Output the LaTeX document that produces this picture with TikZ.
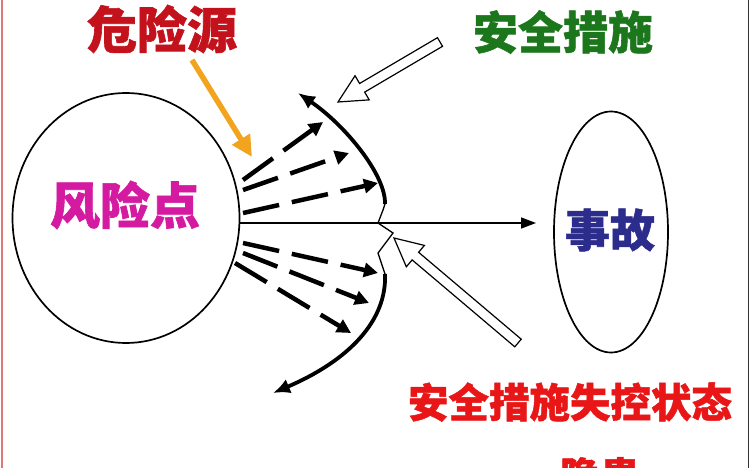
\documentclass[tikz,border=0pt]{standalone}
\usepackage{fontspec}
\newfontfamily\cjk{Noto Sans CJK SC}[BoldFeatures={FakeBold=1.2}]
\usetikzlibrary{calc,arrows.meta,shapes.geometric}
\definecolor{hazred}{RGB}{196,18,28}
\definecolor{pointmag}{RGB}{212,26,160}
\definecolor{safegreen}{RGB}{28,118,28}
\definecolor{accnavy}{RGB}{44,44,140}
\definecolor{failred}{RGB}{232,22,22}
\definecolor{hazorange}{RGB}{242,164,30}
\definecolor{edgered}{RGB}{222,120,120}
\tikzset{
  lbl/.style={font=\cjk\bfseries, inner sep=0pt},
  outline/.style={draw=black, line width=1.7pt},
  ray/.style={line width=4.5pt, dash pattern=on 37pt off 13pt, -{Triangle[length=14pt,width=14pt]}},
  barrier/.style={line width=3.8pt, -{Latex[length=17pt,width=15pt]}},
  jag/.style={line width=1.3pt, line join=miter},
  hollow/.style={draw=black, line width=1.2pt, fill=white, line join=miter},
}
\newcommand\hollowarrow[2]{%
  \draw[hollow] (#1)
    -- ($(#1)!28pt!(#2)!14pt!90:(#2)$)
    -- ($(#1)!28pt!(#2)!5pt!90:(#2)$)
    -- ($(#2)!5pt!-90:(#1)$)
    -- ($(#2)!5pt!90:(#1)$)
    -- ($(#1)!28pt!(#2)!5pt!-90:(#2)$)
    -- ($(#1)!28pt!(#2)!14pt!-90:(#2)$)
    -- cycle;}
\begin{document}
\begin{tikzpicture}[x=1pt,y=-1pt]
\useasboundingbox (0,0) rectangle (750,468);
\clip (0,0) rectangle (750,468);
% frame lines
\coordinate (lt) at (1.5,0); \coordinate (lb) at (1.5,468);
\coordinate (rt) at (748.5,0); \coordinate (rb) at (748.5,468);
\draw[edgered, line width=2pt] (lt) -- (lb);
\draw[black!80, line width=1.6pt] (rt) -- (rb);

% risk point circle
\node[outline, ellipse, minimum width=227pt, minimum height=250pt, inner sep=0pt] (risk) at (126,218) {};
\node[lbl, text=pointmag, font=\cjk\bfseries\fontsize{50}{50}\selectfont] (risklbl) at (125,205) {风险点};

% accident ellipse
\node[outline, ellipse, minimum width=114pt, minimum height=241pt, inner sep=0pt] (acc) at (611,232) {};
\node[lbl, text=accnavy, font=\cjk\bfseries\fontsize{45}{45}\selectfont] (acclbl) at (610,230) {事故};

% labels
\node[lbl, text=hazred, font=\cjk\bfseries\fontsize{50}{50}\selectfont] (hazard) at (162,29) {危险源};
\node[lbl, text=safegreen, font=\cjk\bfseries\fontsize{45}{45}\selectfont] (safe) at (563,32) {安全措施};
\node[lbl, text=failred, font=\cjk\bfseries\fontsize{40.5}{40.5}\selectfont] (fail) at (570,402) {安全措施失控状态};
\node[lbl, text=failred, font=\cjk\bfseries\fontsize{40}{40}\selectfont] (hidden) at (600,476) {隐患};

% orange arrow
\coordinate (oa) at (192,60); \coordinate (ob) at (252,157);
\draw[hazorange, line width=5.5pt, -{Triangle[length=21pt,width=20pt]}] (oa) -- (ob);

% main horizontal line
\coordinate (hs) at (240,223); \coordinate (he) at (536,223);
\draw[line width=1.5pt, -{Triangle[length=15pt,width=11pt]}] (hs) -- (he);

% dashed rays
\coordinate (a1) at (243,180); \coordinate (a2) at (323,122);
\coordinate (b1) at (243,190); \coordinate (b2) at (349,153);
\coordinate (c1) at (243,213); \coordinate (c2) at (378,183);
\coordinate (d1) at (243,243); \coordinate (d2) at (378,273);
\coordinate (e1) at (243,253); \coordinate (e2) at (369,303);
\coordinate (f1) at (235,263); \coordinate (f2) at (351,333);
\draw[ray] (a1) -- (a2);
\draw[ray] (b1) -- (b2);
\draw[ray] (c1) -- (c2);
\draw[ray] (d1) -- (d2);
\draw[ray] (e1) -- (e2);
\draw[ray] (f1) -- (f2);

% barrier curves
\coordinate (ub) at (385,204); \coordinate (ut) at (298,93);
\coordinate (lbb) at (385,274); \coordinate (ltp) at (273,393);
\draw[barrier] (ub) .. controls (386,175) and (345,125) .. (ut);
\draw[barrier] (lbb) .. controls (387,320) and (350,360) .. (ltp);
\draw[jag] (ub) -- (383,210) -- (378,223) -- (393,233) -- (378,253) -- (383,268) -- (lbb);

% hollow arrows (safety measures)
\coordinate (h1tip) at (338,102); \coordinate (h1tail) at (440,42);
\coordinate (h2tip) at (394,238); \coordinate (h2tail) at (518,343);
\hollowarrow{h1tip}{h1tail}
\hollowarrow{h2tip}{h2tail}
\end{tikzpicture}
\end{document}
